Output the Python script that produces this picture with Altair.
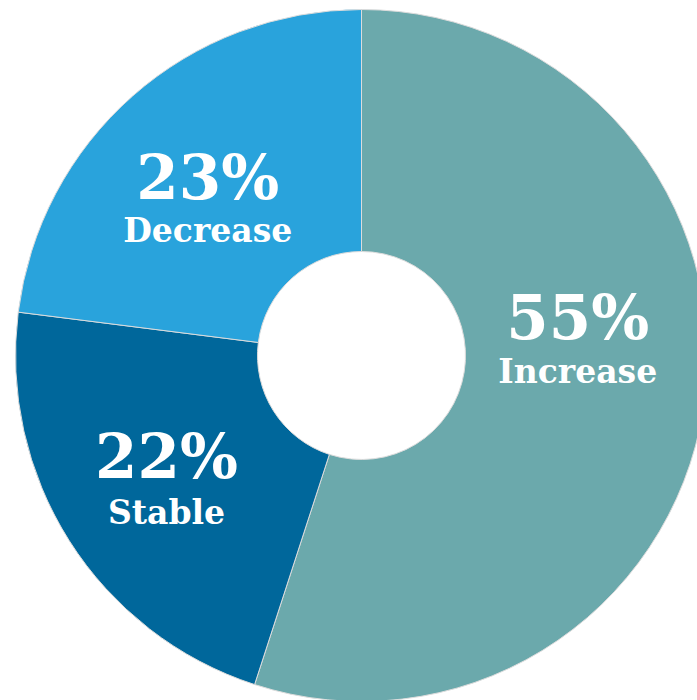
import altair as alt
import pandas as pd
import math

categories = ["Increase", "Stable", "Decrease"]
values = [55, 22, 23]
colors = ["#6BA9AC", "#00679B", "#29A3DC"]

df = pd.DataFrame({
    "category": categories,
    "value": values,
    "order": list(range(len(categories))),
    "pct": [f"{v}%" for v in values],
})

CX, CY = 361.5, 355.5
OUTER, INNER = 346, 104
LABEL_R = 225
FONT = "DejaVu Serif"

base_all = alt.Chart(df).transform_joinaggregate(
    total="sum(value)"
).transform_window(
    cum="sum(value)", sort=[alt.SortField("order", order="ascending")],
    frame=[None, 0],
).transform_calculate(
    start="(datum.cum - datum.value) / datum.total",
    end="datum.cum / datum.total",
    mid="(datum.cum - datum.value / 2) / datum.total",
)

ang = alt.Scale(domain=[0, 1], range=[0, 2 * math.pi])

arcs = base_all.mark_arc(
    outerRadius=OUTER, innerRadius=INNER, stroke="#dcdcdc", strokeWidth=1
).encode(
    theta=alt.Theta("start:Q", stack=None, scale=ang),
    theta2="end:Q",
    color=alt.Color("category:N", scale=alt.Scale(domain=categories, range=colors), legend=None),
    x=alt.value(CX),
    y=alt.value(CY),
)

theta_mid = alt.Theta("mid:Q", stack=None, scale=ang)

# per-category nudges of the label blocks (pixels): (dx, dy, gap to label line)
offsets = {"Increase": (-6, -52, 44), "Stable": (-5, 2, 46), "Decrease": (-5, 12, 43)}

layers = [arcs]
for cat in categories:
    dx, dy, gap = offsets[cat]
    base = base_all.transform_filter(alt.datum.category == cat)
    num = base.mark_text(
        radius=LABEL_R, font=FONT, fontWeight="bold", fontSize=61,
        color="white", align="center", baseline="alphabetic", dx=dx, dy=dy,
    ).encode(theta=theta_mid, text="pct:N", x=alt.value(CX), y=alt.value(CY))
    lab = base.mark_text(
        radius=LABEL_R, font=FONT, fontWeight="bold", fontSize=33,
        color="white", align="center", baseline="alphabetic", dx=dx, dy=dy + gap,
    ).encode(theta=theta_mid, text="category:N", x=alt.value(CX), y=alt.value(CY))
    layers += [num, lab]

chart = alt.layer(*layers).properties(
    width=697, height=700, padding=0,
    autosize=alt.AutoSizeParams(type="none"),
).configure_view(stroke=None)

chart.save("out.html", embed_options={"renderer": "svg", "actions": False})
